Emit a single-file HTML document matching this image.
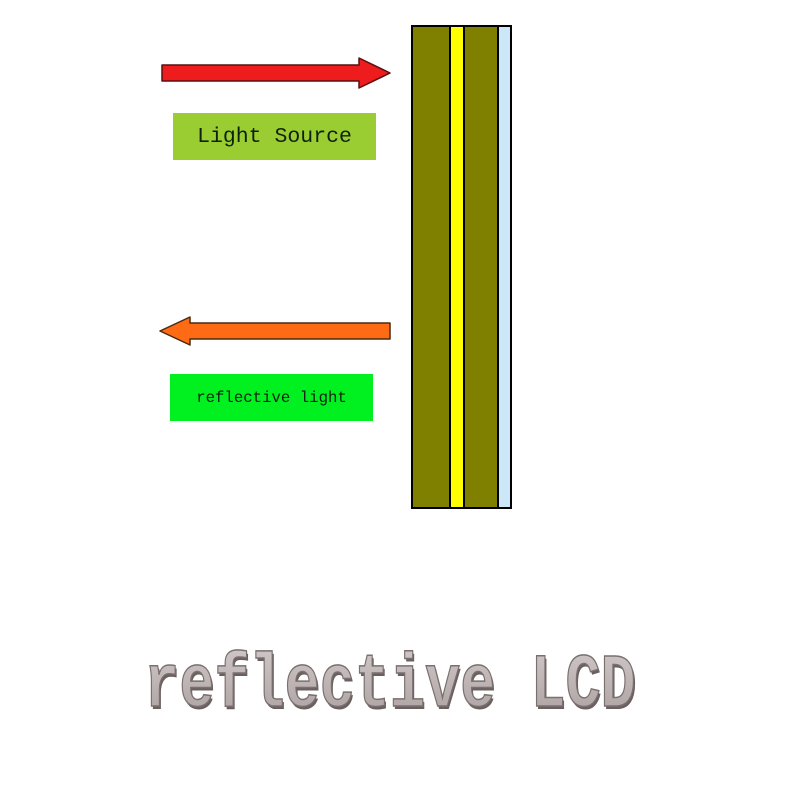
<!DOCTYPE html>
<html><head><meta charset="utf-8"><style>
body{margin:0;background:#fff;width:800px;height:800px;overflow:hidden;position:relative}
.lbl{position:absolute;font-family:"Liberation Mono",monospace;color:#102010;display:flex;align-items:center;justify-content:center}
</style></head><body>
<svg width="800" height="800" style="position:absolute;left:0;top:0">
<defs>
<linearGradient id="g" x1="0" y1="0" x2="0" y2="1"><stop offset="0" stop-color="#d0c8c8"/><stop offset="1" stop-color="#a89c9c"/></linearGradient>
</defs>
<rect x="412" y="26" width="38" height="482" fill="#808000"/>
<rect x="450" y="26" width="14" height="482" fill="#ffff00"/>
<rect x="464" y="26" width="34" height="482" fill="#808000"/>
<rect x="498" y="26" width="13" height="482" fill="#cce8f8"/>
<g stroke="#000" stroke-width="2" fill="none">
<rect x="412" y="26" width="99" height="482"/>
<line x1="450" y1="26" x2="450" y2="508"/><line x1="464" y1="26" x2="464" y2="508"/><line x1="498" y1="26" x2="498" y2="508"/>
</g>
<path d="M162 65 H359 V58 L390 73 L359 88 V81 H162 Z" fill="#ee1c1c" stroke="#5a1010" stroke-width="1.5" stroke-linejoin="round"/>
<path d="M390 323 H190 V317 L160 331 L190 345 V339 H390 Z" fill="#ff6a14" stroke="#4a2a10" stroke-width="1.5" stroke-linejoin="round"/>
<g transform="translate(390 0) scale(0.77 1) translate(-390 0)">
<text x="392" y="709" text-anchor="middle" font-family="Liberation Mono,monospace" font-weight="bold" font-size="76" fill="#6a6060">reflective LCD</text>
<text x="390" y="706" text-anchor="middle" font-family="Liberation Mono,monospace" font-weight="bold" font-size="76" fill="url(#g)" stroke="#7a7070" stroke-width="1.5">reflective LCD</text>
</g>
</svg>
<div class="lbl" style="left:173px;top:113px;width:203px;height:47px;background:#9acd32;font-size:21.5px">Light Source</div>
<div class="lbl" style="left:170px;top:374px;width:203px;height:47px;background:#00f020;font-size:15.7px">reflective light</div>
</body></html>
